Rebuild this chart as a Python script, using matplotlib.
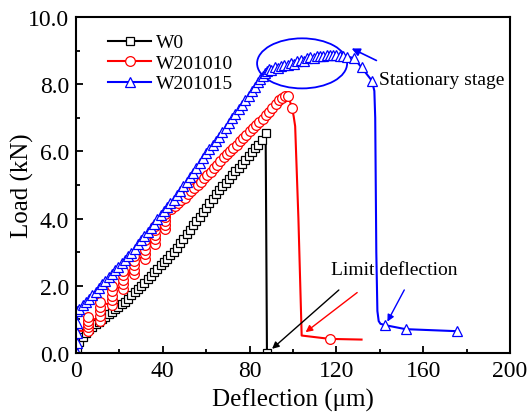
import matplotlib
matplotlib.use("Agg")
import matplotlib.pyplot as plt
from matplotlib.patches import Ellipse

plt.rcParams["font.family"] = ["Liberation Serif", "DejaVu Serif"]
plt.rcParams["mathtext.fontset"] = "stix"

# ---- data (deflection in um, load in kN) ----
w0_x = [0.0, 0.5, 1.5, 3.0, 4.5, 6.0, 7.5, 9.0, 10.5, 12.0, 13.5, 15.0, 16.5, 18.0,
        19.5, 21.0, 22.5, 24.0, 25.5, 27.0, 28.5, 30.0, 31.5, 33.0, 34.5, 36.0, 37.5,
        39.0, 40.5, 42.0, 43.5, 45.0, 46.5, 48.0, 49.5, 51.0, 52.5, 54.0, 55.5, 57.0,
        58.5, 60.0, 61.5, 63.0, 64.5, 66.0, 67.5, 69.0, 70.5, 72.0, 73.5, 75.0, 76.5,
        78.0, 79.5, 81.0, 82.5, 84.0, 85.5, 87.4, 88.0]
w0_y = [0.0, 0.15, 0.32, 0.48, 0.60, 0.70, 0.78, 0.85, 0.93, 1.00, 1.08, 1.15, 1.23, 1.30,
        1.38, 1.45, 1.53, 1.62, 1.72, 1.81, 1.91, 2.00, 2.09, 2.19, 2.29, 2.40, 2.51,
        2.61, 2.71, 2.80, 2.91, 3.02, 3.14, 3.27, 3.40, 3.54, 3.67, 3.80, 3.93, 4.06,
        4.19, 4.32, 4.45, 4.59, 4.72, 4.85, 4.96, 5.07, 5.19, 5.30, 5.41, 5.52, 5.64,
        5.75, 5.86, 5.98, 6.09, 6.20, 6.34, 6.55, 0.0]

# W201010: stepped start (stacked points at each step), then smooth rise, failure
r_start_x = [0.6, 0.8]
r_start_y = [0.0, 0.66]
r_step_x = [5.6, 11.0, 16.4, 21.6, 26.6, 31.6, 36.4, 41.2]
r_step_y = [[0.66, 0.76, 0.86, 0.96, 1.06],
            [0.96, 1.10, 1.24, 1.38, 1.52],
            [1.42, 1.57, 1.71, 1.86, 2.00],
            [1.90, 2.04, 2.18, 2.32, 2.45],
            [2.35, 2.48, 2.62, 2.75, 2.88],
            [2.80, 2.94, 3.08, 3.22, 3.35],
            [3.25, 3.38, 3.52, 3.65, 3.78],
            [3.70, 3.81, 3.93, 4.04, 4.15]]
r_rise_x = [44.0, 45.5, 47.0, 48.5, 50.0, 51.5, 53.0, 54.5, 56.0, 57.5, 59.0, 60.5, 62.0,
            63.5, 65.0, 66.5, 68.0, 69.5, 71.0, 72.5, 74.0, 75.5, 77.0, 78.5, 80.0, 81.5,
            83.0, 84.5, 86.0, 87.5, 89.0, 90.5, 92.0, 93.5, 95.0, 96.3, 97.8, 99.5]
r_rise_y = [4.28, 4.37, 4.46, 4.55, 4.62, 4.72, 4.82, 4.92, 5.01, 5.10, 5.20, 5.30, 5.40,
            5.50, 5.61, 5.72, 5.83, 5.93, 6.02, 6.11, 6.20, 6.30, 6.40, 6.50, 6.60, 6.69,
            6.78, 6.88, 6.97, 7.07, 7.18, 7.30, 7.42, 7.52, 7.60, 7.66, 7.66, 7.30]
r_fail_x = [100.3, 101.0, 102.5, 104.0, 117.0, 131.6]
r_fail_y = [7.05, 6.75, 4.00, 0.52, 0.42, 0.40]
r_marked_fail = [117.0]

# W201015
b_x = [0.3, 0.4, 0.5, 0.5, 0.6, 1.5, 3.0, 4.5, 6.0, 7.5, 9.0, 10.5, 12.0, 13.5, 15.0,
       16.5, 18.0, 19.5, 21.0, 22.5, 24.0, 25.5, 27.0, 28.5, 30.0, 31.5, 33.0, 34.5,
       36.0, 37.5, 39.0, 40.5, 42.0, 43.5, 45.0, 46.5, 48.0, 49.5, 51.0, 52.5, 54.0,
       55.5, 57.0, 58.5, 60.0, 61.5, 63.0, 64.5, 66.0, 67.5, 69.0, 70.5, 72.0, 73.5,
       75.0, 76.5, 78.0, 79.5, 81.0, 82.5, 84.0,
       85.0, 86.0, 87.0, 88.0, 89.0, 90.0, 91.5, 93.0, 94.5, 96.0, 97.5, 99.0, 100.5,
       102.0, 103.5, 105.0, 106.5, 108.0, 109.5, 111.0, 112.5, 114.0, 115.5, 117.0,
       118.5, 120.0, 121.5, 123.0, 125.0, 128.0, 131.6, 136.4,
       137.5, 137.9, 138.4, 138.9, 139.5, 140.3,
       142.4, 151.9, 175.4]
b_y = [0.0, 0.3, 0.6, 0.9, 1.26, 1.31, 1.42, 1.52, 1.62, 1.73, 1.83, 1.94, 2.04, 2.15, 2.25,
       2.36, 2.46, 2.57, 2.67, 2.78, 2.88, 2.99, 3.11, 3.23, 3.35, 3.47, 3.59, 3.71,
       3.84, 3.98, 4.11, 4.23, 4.34, 4.45, 4.55, 4.69, 4.82, 4.96, 5.09, 5.23, 5.36,
       5.50, 5.65, 5.80, 5.95, 6.07, 6.19, 6.31, 6.44, 6.58, 6.71, 6.85, 6.98, 7.12,
       7.25, 7.39, 7.52, 7.66, 7.79, 7.93, 8.06,
       8.15, 8.25, 8.33, 8.40, 8.45, 8.42, 8.50, 8.48, 8.55, 8.58, 8.56, 8.62, 8.60,
       8.68, 8.72, 8.70, 8.77, 8.80, 8.78, 8.84, 8.85, 8.83, 8.87, 8.88,
       8.86, 8.87, 8.85, 8.84, 8.82, 8.78, 8.50, 8.10,
       7.80, 7.00, 3.00, 1.25, 0.95, 0.87,
       0.83, 0.71, 0.65]
b_line_only_x = [137.5, 137.9, 138.4, 138.9, 139.5, 140.3]

# assemble W201010
red_x = list(r_start_x)
red_y = list(r_start_y)
for xs, ys in zip(r_step_x, r_step_y):
    red_x += [xs] * len(ys)
    red_y += ys
red_x += r_rise_x + r_fail_x
red_y += r_rise_y + r_fail_y
red_nomark = set(r_start_x) | (set(r_fail_x) - set(r_marked_fail))
red_mark = [i for i, v in enumerate(red_x) if v not in red_nomark]
blue_mark = [i for i, v in enumerate(b_x) if v not in b_line_only_x]

fig = plt.figure(figsize=(5.29, 4.14), dpi=100)
ax = fig.add_axes([0.1437, 0.1449, 0.8203, 0.8116])

ax.plot(w0_x, w0_y, color="black", lw=1.5, marker="s", ms=6, mfc="white",
        mec="black", mew=0.9, label="W0")
ax.plot(red_x, red_y, color="red", lw=1.5, marker="o", ms=7, mfc="white",
        mec="red", mew=0.9, markevery=red_mark, label="W201010")
ax.plot(b_x, b_y, color="blue", lw=1.5, marker="^", ms=7, mfc="white",
        mec="blue", mew=0.9, markevery=blue_mark, label="W201015")

# annotations
ax.add_patch(Ellipse((104.2, 8.62), 41.5, 1.49, fill=False, ec="blue", lw=1.3))
ax.annotate("", xy=(125.9, 9.1), xytext=(139.6, 8.67),
            arrowprops=dict(arrowstyle="-|>", color="blue", lw=1.2, mutation_scale=12))
ax.text(139.8, 8.13, "Stationary stage", fontsize=14, va="center", ha="left")
ax.text(117.4, 2.48, "Limit deflection", fontsize=14, va="center", ha="left")
ax.annotate("", xy=(89.4, 0.07), xytext=(122.1, 1.93),
            arrowprops=dict(arrowstyle="-|>", color="black", lw=1.0, mutation_scale=10))
ax.annotate("", xy=(104.8, 0.57), xytext=(130.6, 1.85),
            arrowprops=dict(arrowstyle="-|>", color="red", lw=1.0, mutation_scale=10))
ax.annotate("", xy=(142.9, 0.86), xytext=(151.9, 1.95),
            arrowprops=dict(arrowstyle="-|>", color="blue", lw=1.0, mutation_scale=10))

ax.set_xlim(0, 200)
ax.set_ylim(0, 10)
ax.set_xticks([0, 40, 80, 120, 160, 200])
ax.set_xticks(range(20, 200, 40), minor=True)
ax.set_yticks([0, 2, 4, 6, 8, 10])
ax.set_yticks([1, 3, 5, 7, 9], minor=True)
ax.set_yticklabels(["0.0", "2.0", "4.0", "6.0", "8.0", "10.0"])
ax.tick_params(which="both", direction="in", width=1.3, labelsize=17, pad=5)
ax.tick_params(which="major", length=5)
ax.tick_params(which="minor", length=3)
for s in ax.spines.values():
    s.set_linewidth(1.5)

ax.set_xlabel("Deflection (μm)", fontsize=18, va="center")
ax.set_ylabel("Load (kN)", fontsize=18, va="center")
ax.xaxis.set_label_coords(0.5, -0.137)
ax.yaxis.set_label_coords(-0.124, 0.5)

ax.legend(loc="upper left", bbox_to_anchor=(0.074, 0.95), frameon=False, fontsize=14,
          handlelength=2.2, handletextpad=0.25, labelspacing=0.15, borderpad=0,
          borderaxespad=0)

fig.savefig("out.png", dpi=100)
